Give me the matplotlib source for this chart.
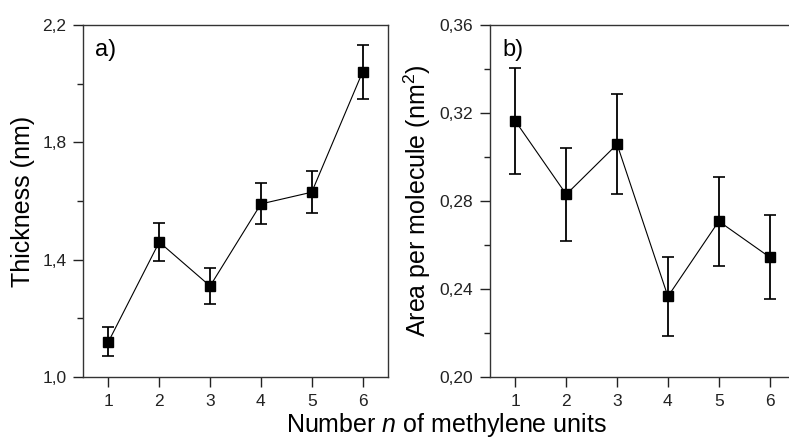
import matplotlib
matplotlib.use("Agg")
import matplotlib.pyplot as plt
from matplotlib.ticker import FixedLocator

plt.rcParams["font.family"] = ["Liberation Sans", "DejaVu Sans"]
plt.rcParams["mathtext.fontset"] = "custom"
plt.rcParams["mathtext.rm"] = "Liberation Sans"
plt.rcParams["mathtext.it"] = "Liberation Sans:italic"

n_units = [1, 2, 3, 4, 5, 6]

thickness = [1.12, 1.46, 1.31, 1.59, 1.63, 2.04]
thickness_err = [0.05, 0.065, 0.06, 0.07, 0.072, 0.093]

area = [0.3163, 0.2830, 0.3058, 0.2366, 0.2708, 0.2545]
area_err = [0.024, 0.0213, 0.0228, 0.0178, 0.0203, 0.019]

thick_ticks = [1.0, 1.4, 1.8, 2.2]
thick_labels = ["1,0", "1,4", "1,8", "2,2"]
thick_minor = [1.2, 1.6, 2.0]
area_ticks = [0.20, 0.24, 0.28, 0.32, 0.36]
area_labels = ["0,20", "0,24", "0,28", "0,32", "0,36"]
area_minor = [0.22, 0.26, 0.30, 0.34]

fig = plt.figure(figsize=(7.89, 4.42), dpi=100)
ax1 = fig.add_axes([83 / 789, 65 / 442, 305 / 789, 352 / 442])
ax2 = fig.add_axes([490 / 789, 65 / 442, 305 / 789, 352 / 442])


def draw(ax, y, yerr, ticks, labels, minor, ylim, ylabel, tag):
    ax.errorbar(n_units, y, yerr=yerr, color="black", marker="s", markersize=7,
                linewidth=0.8, elinewidth=1.3, capsize=4, capthick=1.2)
    ax.set_xlim(0.5, 6.5)
    ax.set_ylim(*ylim)
    ax.set_xticks(n_units)
    ax.set_yticks(ticks)
    ax.set_yticklabels(labels)
    ax.yaxis.set_minor_locator(FixedLocator(minor))
    ax.tick_params(which="major", direction="out", length=7, width=1,
                   labelsize=12.5, color="#222222", labelcolor="#222222")
    ax.tick_params(axis="y", which="major", pad=5)
    ax.tick_params(axis="x", which="major", pad=5)
    ax.tick_params(which="minor", direction="out", length=4, width=1, color="#222222")
    for s in ax.spines.values():
        s.set_color("#333333")
        s.set_linewidth(1.0)
    ax.set_ylabel(ylabel, fontsize=18, labelpad=5)
    ax.text(0.04, 0.93, tag, transform=ax.transAxes, fontsize=17,
            ha="left", va="center")


draw(ax1, thickness, thickness_err, thick_ticks, thick_labels, thick_minor,
     (1.0, 2.2), "Thickness (nm)", "a)")
draw(ax2, area, area_err, area_ticks, area_labels, area_minor,
     (0.20, 0.36), "Area per molecule (nm$^2$)", "b)")

fig.text(446 / 789, 1 - 425 / 442, "Number $n$ of methylene units",
         fontsize=18, ha="center", va="center")

fig.savefig("out.png", dpi=100)
plt.close(fig)
